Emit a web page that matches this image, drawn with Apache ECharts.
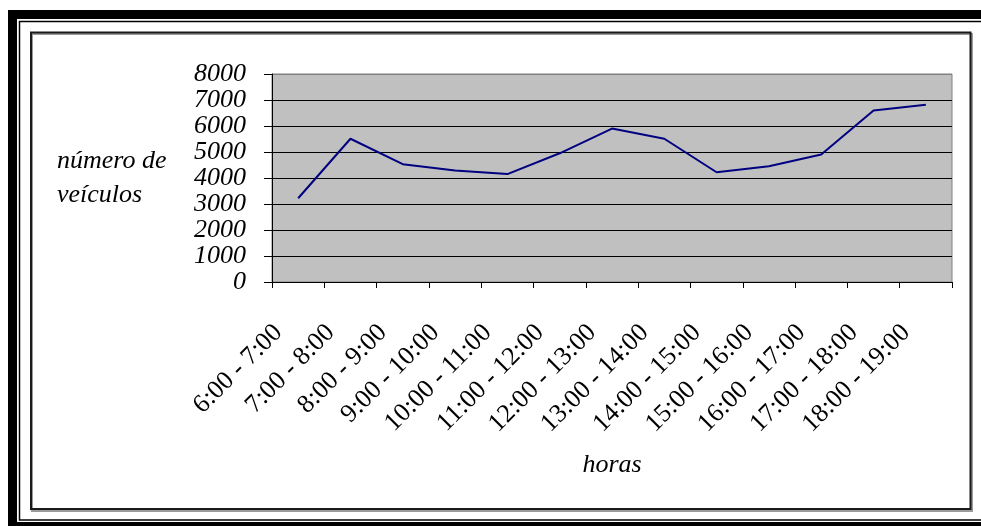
<!DOCTYPE html>
<html>
<head>
<meta charset="utf-8">
<script src="https://cdn.jsdelivr.net/npm/echarts@6/dist/echarts.min.js"></script>
<style>
  html, body { margin: 0; padding: 0; background: #fff; }
  #chart { width: 981px; height: 526px; }
</style>
</head>
<body>
<div id="chart"></div>
<script>
// Hourly vehicle counts
const hourBands = [
  '6:00 - 7:00', '7:00 - 8:00', '8:00 - 9:00', '9:00 - 10:00',
  '10:00 - 11:00', '11:00 - 12:00', '12:00 - 13:00', '13:00 - 14:00',
  '14:00 - 15:00', '15:00 - 16:00', '16:00 - 17:00', '17:00 - 18:00',
  '18:00 - 19:00'
];
const vehicleCounts = [3220, 5510, 4530, 4290, 4150, 4950, 5900, 5510, 4220, 4450, 4900, 6600, 6820];
const yTicks = [0, 1000, 2000, 3000, 4000, 5000, 6000, 7000, 8000];
const xTitle = 'horas';
const yTitleLines = ['número de', 'veículos'];

const serif = '"Liberation Serif", "Times New Roman", serif';

// gridlines black, top edge of the plot stays grey like the frame border
const gridColors = yTicks.map((v, i) => i === yTicks.length - 1 ? '#808080' : '#000000');

const chart = echarts.init(document.getElementById('chart'), null, { renderer: 'canvas' });

chart.setOption({
  animation: false,
  backgroundColor: '#ffffff',
  grid: {
    left: 272, top: 74, right: 29, bottom: 244,
    show: true,
    backgroundColor: '#c0c0c0',
    borderColor: '#808080',
    borderWidth: 1
  },
  xAxis: {
    type: 'category',
    data: hourBands,
    boundaryGap: true,
    name: xTitle,
    nameLocation: 'middle',
    nameGap: 183,
    nameTextStyle: {
      fontFamily: serif, fontStyle: 'italic', fontSize: 26, color: '#000',
      verticalAlign: 'middle'
    },
    axisLine: { show: true, lineStyle: { color: '#000', width: 1 } },
    axisTick: { show: true, interval: 0, length: 6, lineStyle: { color: '#000' } },
    axisLabel: {
      interval: 0,
      rotate: 45,
      margin: 27,
      padding: [0, 28, 0, 0],
      fontFamily: serif,
      fontSize: 26,
      color: '#000'
    },
    splitLine: { show: false }
  },
  yAxis: {
    type: 'value',
    min: 0,
    max: 8000,
    interval: 1000,
    axisLine: { show: true, lineStyle: { color: '#000', width: 1 } },
    axisTick: { show: true, length: 8, lineStyle: { color: '#000' } },
    axisLabel: {
      margin: 26,
      formatter: v => String(v),
      fontFamily: serif,
      fontStyle: 'italic',
      fontSize: 26,
      color: '#000'
    },
    splitLine: { show: true, lineStyle: { color: gridColors, width: 1 } }
  },
  series: [{
    type: 'line',
    data: vehicleCounts,
    symbol: 'none',
    lineStyle: { color: '#000080', width: 2 },
    z: 3
  }],
  graphic: [
    // heavy outer border with a thin inner rule
    { type: 'rect', silent: true, z: 100,
      shape: { x: 12.5, y: 14.5, width: 1000, height: 512 },
      style: { fill: null, stroke: '#000', lineWidth: 9 } },
    { type: 'rect', silent: true, z: 100,
      shape: { x: 19.5, y: 21.5, width: 1000, height: 498.5 },
      style: { fill: null, stroke: '#000', lineWidth: 1.5 } },
    // chart area box with a soft shadow
    { type: 'rect', silent: true, z: 99,
      shape: { x: 32, y: 34, width: 940, height: 477 },
      style: { fill: null, stroke: '#9a9a9a', lineWidth: 2 } },
    { type: 'rect', silent: true, z: 100,
      shape: { x: 31, y: 32.5, width: 939.5, height: 476.5 },
      style: { fill: null, stroke: '#1a1a1a', lineWidth: 2 } },
    // y-axis title on two lines
    { type: 'text', silent: true, z: 100, left: 57, top: 148,
      style: { text: yTitleLines[0], font: 'italic 26px ' + serif, fill: '#000' } },
    { type: 'text', silent: true, z: 100, left: 57, top: 182,
      style: { text: yTitleLines[1], font: 'italic 26px ' + serif, fill: '#000' } }
  ]
});
</script>
</body>
</html>
